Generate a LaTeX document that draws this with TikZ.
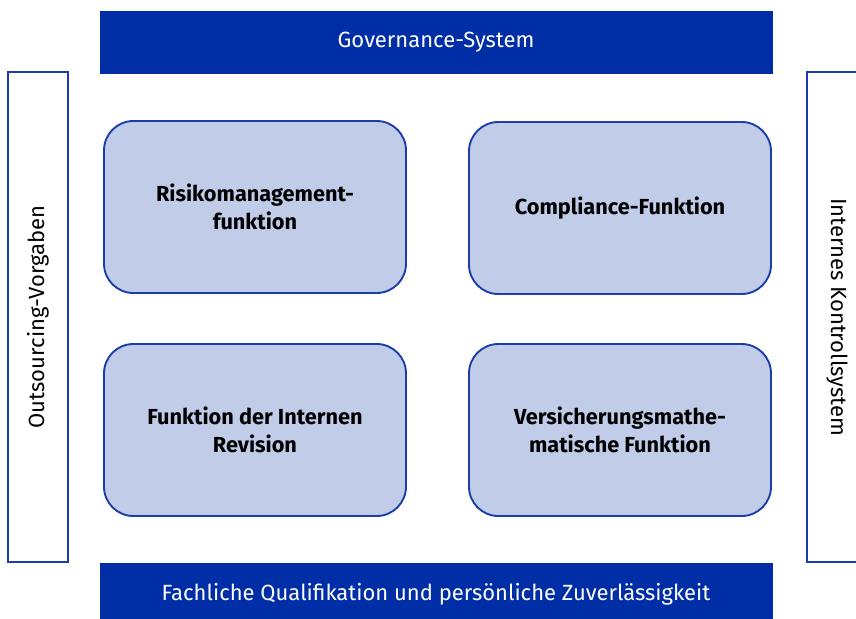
\documentclass[tikz,border=0pt]{standalone}
\usepackage{fontspec}
\setmainfont{Fira Sans}
\definecolor{bardark}{RGB}{0,46,166}
\definecolor{boxline}{RGB}{26,61,170}
\definecolor{boxfill}{RGB}{192,204,232}
\tikzset{
  bar/.style={fill=bardark, draw=bardark, text=white, minimum width=672*0.75pt, minimum height=62*0.75pt, inner sep=0pt, font=\fontsize{16.5}{20}\selectfont},
  side/.style={draw=boxline, line width=1.4pt, fill=white, minimum width=490*0.75pt, minimum height=60*0.75pt, inner sep=0pt, font=\fontsize{16.5}{20}\selectfont},
  func/.style={draw=boxline, line width=1.4pt, fill=boxfill, rounded corners=22pt, minimum width=302*0.75pt, minimum height=172*0.75pt, inner sep=0pt, align=center, font=\bfseries\fontsize{16.3}{21}\selectfont}
}
\begin{document}
\begin{tikzpicture}[x=0.75pt, y=-0.75pt]
  \useasboundingbox (0,0) rectangle (856,618);
  \node[bar] (governance) at (436,42) {Governance-System};
  \node[bar] (qualifikation) at (436,594) {Fachliche Qualifikation und persönliche Zuverlässigkeit};
  \node[side, rotate=90] (outsourcing) at (38,317) {Outsourcing-Vorgaben};
  \node[side, rotate=-90] (ikcs) at (837,317) {Internes Kontrollsystem};
  \foreach \name/\x/\y/\txt in {risiko/255/207/{Risikomanagement-\\funktion},
                                compliance/620/208/{Compliance-Funktion},
                                revision/255/430/{Funktion der Internen\\Revision},
                                mathe/620/430/{Versicherungsmathe-\\matische Funktion}}{
    \node[func] (\name) at (\x,\y) {\txt};
  }
\end{tikzpicture}
\end{document}
